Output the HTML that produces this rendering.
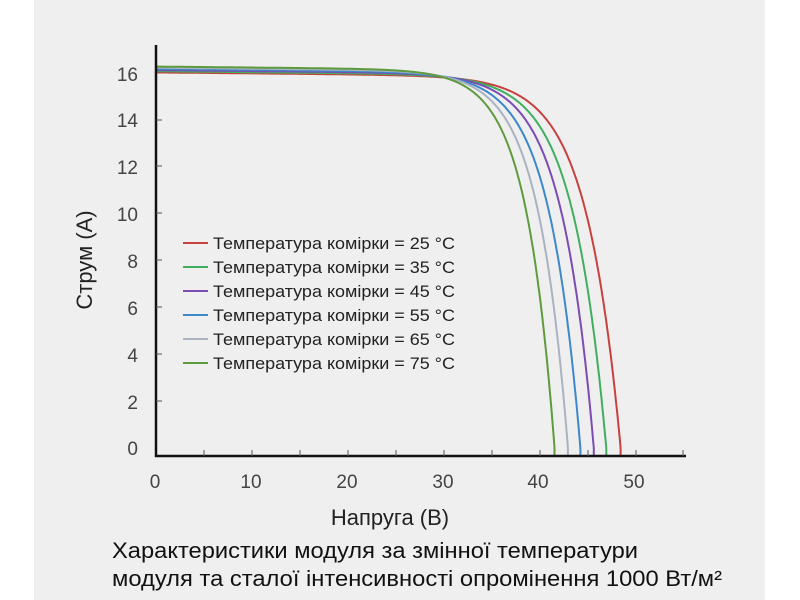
<!DOCTYPE html>
<html><head><meta charset="utf-8"><style>
html,body{margin:0;padding:0;background:#fff;}
svg{display:block;font-family:"Liberation Sans",sans-serif;}
</style></head><body>
<svg id="s" width="800" height="600" xmlns="http://www.w3.org/2000/svg">
<rect x="0" y="0" width="800" height="600" fill="#fff"/>
<rect x="34" y="0" width="731" height="600" fill="#efefef"/>
<g id="curves"></g>
<line x1="156" y1="45" x2="156" y2="457" stroke="#111" stroke-width="2.5"/>
<line x1="155" y1="456" x2="686" y2="456" stroke="#111" stroke-width="2.5"/>
<g stroke="#555" stroke-width="1">
<line x1="204" y1="450" x2="204" y2="456"/><line x1="252" y1="450" x2="252" y2="456"/>
<line x1="300" y1="450" x2="300" y2="456"/><line x1="348" y1="450" x2="348" y2="456"/>
<line x1="396" y1="450" x2="396" y2="456"/><line x1="444" y1="450" x2="444" y2="456"/>
<line x1="492" y1="450" x2="492" y2="456"/><line x1="540" y1="450" x2="540" y2="456"/>
<line x1="588" y1="450" x2="588" y2="456"/><line x1="636" y1="450" x2="636" y2="456"/>
<line x1="683" y1="450" x2="683" y2="456"/>
<line x1="156" y1="120" x2="162" y2="120"/><line x1="156" y1="166" x2="162" y2="166"/>
<line x1="156" y1="213" x2="162" y2="213"/><line x1="156" y1="260" x2="162" y2="260"/>
<line x1="156" y1="307" x2="162" y2="307"/><line x1="156" y1="354" x2="162" y2="354"/>
<line x1="156" y1="401" x2="162" y2="401"/>
</g>
<g fill="#444" font-size="19" text-anchor="end">
<text x="138" y="81">16</text><text x="138" y="127">14</text><text x="138" y="174">12</text>
<text x="138" y="221">10</text><text x="138" y="268">8</text><text x="138" y="315">6</text>
<text x="138" y="362">4</text><text x="138" y="409">2</text><text x="138" y="455">0</text>
</g>
<g fill="#444" font-size="19" text-anchor="middle">
<text x="155" y="488">0</text><text x="251" y="488">10</text><text x="347" y="488">20</text>
<text x="443" y="488">30</text><text x="538" y="488">40</text><text x="634" y="488">50</text>
</g>
<text x="92" y="260" font-size="22" fill="#222" text-anchor="middle" transform="rotate(-90 92 260)">Струм (А)</text>
<text x="390" y="525" font-size="22" fill="#222" text-anchor="middle">Напруга (В)</text>
<g id="leg" font-size="16.5" fill="#222"></g>
<text x="112" y="558" font-size="22" fill="#111" textLength="526" lengthAdjust="spacingAndGlyphs">Характеристики модуля за змінної температури</text>
<text x="112" y="586" font-size="22" fill="#111" textLength="610" lengthAdjust="spacingAndGlyphs">модуля та сталої інтенсивності опромінення 1000 Вт/м²</text>
</svg>
<script>
var cols=["#c8413f","#3fae5f","#7b4cb2","#3d88c9","#aab2c2","#5e9a3e"];
var voc=[48.5,47.0,45.7,44.3,43.0,41.6];
var isc=[16.05,16.1,16.15,16.2,16.25,16.3];
var a=[3.6,3.5,3.4,3.3,3.15,3.0];
var X=function(v){return 156+v*9.58;},Y=function(i){return 448-23.4*i;};
var g=document.getElementById('curves'),L=document.getElementById('leg');
var ns="http://www.w3.org/2000/svg";
for(var k=0;k<6;k++){
 var pts=[];
 var denom=1-Math.exp(-voc[k]/a[k]);
 for(var v=0;v<=voc[k]+0.001;v+=0.1){
  var vv=Math.min(v,voc[k]);
  var i=(isc[k]-0.004*vv)*(1-Math.exp((vv-voc[k])/a[k]))/denom;
  pts.push(X(vv).toFixed(1)+","+Y(i).toFixed(1));
 }
 pts.push(X(voc[k]).toFixed(1)+","+Y(-0.3).toFixed(1));
 var p=document.createElementNS(ns,"polyline");
 p.setAttribute("points",pts.join(" "));p.setAttribute("fill","none");
 p.setAttribute("stroke",cols[k]);p.setAttribute("stroke-width","2");
 g.appendChild(p);
 var yy=243+k*24;
 var l=document.createElementNS(ns,"line");
 l.setAttribute("x1",183);l.setAttribute("x2",208);l.setAttribute("y1",yy);l.setAttribute("y2",yy);
 l.setAttribute("stroke",cols[k]);l.setAttribute("stroke-width","2");L.appendChild(l);
 var t=document.createElementNS(ns,"text");
 t.setAttribute("x",213);t.setAttribute("y",yy+6);t.setAttribute("textLength",242);
 t.setAttribute("lengthAdjust","spacingAndGlyphs");
 t.textContent="Температура комірки = "+(25+10*k)+" °C";L.appendChild(t);
}
</script>
</body></html>
